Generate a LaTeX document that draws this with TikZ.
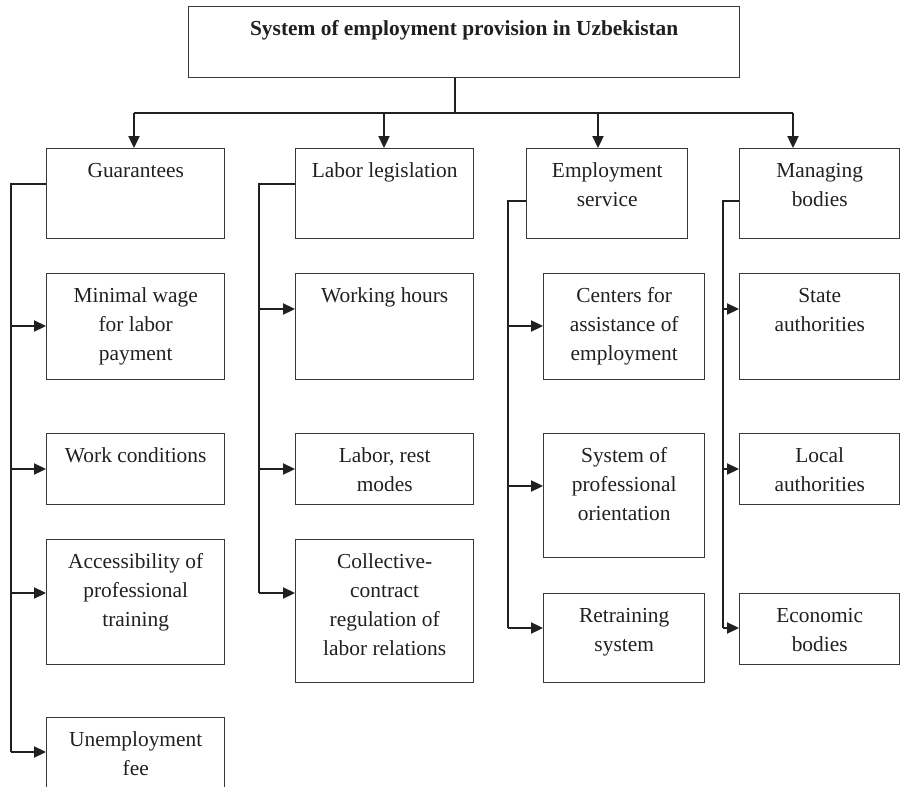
\documentclass[tikz,border=0pt]{standalone}
\usepackage{fontspec}
\setmainfont{Liberation Serif}
\usetikzlibrary{arrows.meta}
\definecolor{ink}{HTML}{231F20}
\definecolor{frame}{HTML}{3A3738}
% box text: width and height in drawing units (half points), text hung from the top
\newcommand\boxtext[3]{\parbox[c][\dimexpr#2pt/2\relax][t]{\dimexpr#1pt/2\relax}{\centering\rule{0pt}{14.5pt}#3\par}}
\begin{document}
\begin{tikzpicture}[x=0.5pt,y=-0.5pt,
  box/.style={draw=frame,line width=0.7pt,inner sep=0pt,anchor=north west,text=ink,
    font=\fontsize{10.7}{14.4}\selectfont},
  link/.style={draw=ink,line width=0.75pt},
  arr/.style={link,-{Triangle[length=6pt,width=5.6pt]}}]
\useasboundingbox (0,0) rectangle (900,787);

% title
\node[box] (title) at (188,6) {\boxtext{551}{71}{\bfseries System of employment provision in Uzbekistan}};

% first level
\node[box] (guar) at (46,148)  {\boxtext{178}{90}{Guarantees}};
\node[box] (law)  at (295,148) {\boxtext{178}{90}{Labor legislation}};
\node[box] (serv) at (526,148) {\boxtext{161}{90}{Employment\\service}};
\node[box] (mgmt) at (739,148) {\boxtext{160}{90}{Managing\\bodies}};

% guarantees
\node[box] (wage)  at (46,273) {\boxtext{178}{106}{Minimal wage\\for labor\\payment}};
\node[box] (cond)  at (46,433) {\boxtext{178}{71}{Work conditions}};
\node[box] (train) at (46,539) {\boxtext{178}{125}{Accessibility of\\professional\\training}};
\node[box] (unemp) at (46,717) {\boxtext{178}{90}{Unemployment\\fee}};

% labor legislation
\node[box] (hours)    at (295,273) {\boxtext{178}{106}{Working hours}};
\node[box] (modes)    at (295,433) {\boxtext{178}{71}{Labor, rest\\modes}};
\node[box] (contract) at (295,539) {\boxtext{178}{143}{Collective-\\contract\\regulation of\\labor relations}};

% employment service
\node[box] (centers) at (543,273) {\boxtext{161}{106}{Centers for\\assistance of\\employment}};
\node[box] (orient)  at (543,433) {\boxtext{161}{124}{System of\\professional\\orientation}};
\node[box] (retrain) at (543,593) {\boxtext{161}{89}{Retraining\\system}};

% managing bodies
\node[box] (state) at (739,273) {\boxtext{160}{106}{State\\authorities}};
\node[box] (local) at (739,433) {\boxtext{160}{71}{Local\\authorities}};
\node[box] (econ)  at (739,593) {\boxtext{160}{71}{Economic\\bodies}};

% bus from the title
\coordinate (hub) at (455,113);
\coordinate (d1) at (134,113);
\coordinate (d2) at (384,113);
\coordinate (d3) at (598,113);
\coordinate (d4) at (793,113);
\draw[link] (title.south -| hub) -- (hub);
\draw[link] (d1) -- (d4);
\draw[arr] (d1) -- (d1 |- guar.north);
\draw[arr] (d2) -- (d2 |- law.north);
\draw[arr] (d3) -- (d3 |- serv.north);
\draw[arr] (d4) -- (d4 |- mgmt.north);

% spines
\coordinate (sp1) at (11,184);
\coordinate (sp2) at (259,184);
\coordinate (sp3) at (508,201);
\coordinate (sp4) at (723,201);

% entry points on the child boxes
\coordinate (wage-in)  at (46,326);
\coordinate (cond-in)  at (46,469);
\coordinate (train-in) at (46,593);
\coordinate (unemp-in) at (46,752);
\coordinate (hours-in)    at (295,309);
\coordinate (modes-in)    at (295,469);
\coordinate (contract-in) at (295,593);
\coordinate (centers-in) at (543,326);
\coordinate (orient-in)  at (543,486);
\coordinate (retrain-in) at (543,628);
\coordinate (state-in) at (739,309);
\coordinate (local-in) at (739,469);
\coordinate (econ-in)  at (739,628);

\draw[link] (guar.west |- sp1) -- (sp1) -- (sp1 |- unemp-in);
\draw[link] (law.west |- sp2) -- (sp2) -- (sp2 |- contract-in);
\draw[link] (serv.west |- sp3) -- (sp3) -- (sp3 |- retrain-in);
\draw[link] (mgmt.west |- sp4) -- (sp4) -- (sp4 |- econ-in);

\foreach \c in {wage,cond,train,unemp} \draw[arr] (sp1 |- \c-in) -- (\c-in);
\foreach \c in {hours,modes,contract} \draw[arr] (sp2 |- \c-in) -- (\c-in);
\foreach \c in {centers,orient,retrain} \draw[arr] (sp3 |- \c-in) -- (\c-in);
\foreach \c in {state,local,econ} \draw[arr] (sp4 |- \c-in) -- (\c-in);
\end{tikzpicture}
\end{document}
